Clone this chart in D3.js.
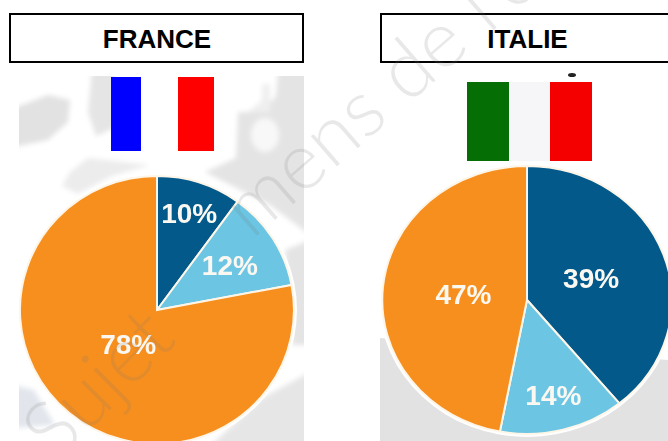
<!DOCTYPE html>
<html><head>
<meta charset="utf-8">
<script src="https://d3js.org/d3.v7.min.js"></script>
<style>
  html, body { margin: 0; padding: 0; background: #fff; }
  svg { display: block; }
</style>
</head>
<body>
<svg id="chart" width="668" height="441"></svg>
<script>
const categories = ["Bleu fonce", "Bleu clair", "Orange"];
const franceValues = [10, 12, 78];
const italieValues = [39, 14, 47];
const colors = ["#03598a", "#6cc5e3", "#f78f1e"];
const franceFlag = ["#0000ff", "#ffffff", "#ff0000"];
const italieFlag = ["#056f05", "#f6f6f8", "#f50000"];

const svg = d3.select("#chart");
const defs = svg.append("defs");
defs.append("filter").attr("id", "soft").append("feGaussianBlur").attr("stdDeviation", 0.55);
defs.append("filter").attr("id", "mapblur").append("feGaussianBlur").attr("stdDeviation", 2.5);
defs.append("clipPath").attr("id", "clipF").append("rect").attr("x", 19).attr("y", 76).attr("width", 285).attr("height", 365);
defs.append("clipPath").attr("id", "clipI").append("rect").attr("x", 380).attr("y", 76).attr("width", 288).attr("height", 365);

// grey map behind the pies (decoration only)
const mapF = svg.append("g").attr("clip-path", "url(#clipF)")
  .append("g").attr("filter", "url(#mapblur)");
[
  ["M14,108 L48,95 L70,100 L68,122 L48,140 L14,147 Z", "#e2e2e2"],
  ["M92,70 L114,70 L114,128 L96,136 L88,112 Z", "#e5e5e5"],
  ["M70,172 L88,158 L150,165 L112,176 L78,194 L62,186 Z", "#ececec"],
  ["M278,70 L310,70 L310,235 L270,205 L205,172 L236,158 L238,112 L262,112 L276,96 Z", "#e4e4e4"],
  ["M248,112 L262,100 L262,84 L270,84 L270,112 Z", "#efefef"],
  ["M14,385 L34,390 L55,425 L14,428 Z", "#e2e6ec"],
  ["M210,446 L262,398 L310,372 L310,446 Z", "#e6e6e6"],
  ["M285,250 L310,240 L310,345 L292,345 Z", "#e4e4e4"]
].forEach(d => mapF.append("path").attr("d", d[0]).attr("fill", d[1]));
// white patch inside the land on the right
mapF.append("ellipse").attr("cx", 265).attr("cy", 135).attr("rx", 14).attr("ry", 17).attr("fill", "#f8f8f8");

const mapI = svg.append("g").attr("clip-path", "url(#clipI)")
  .append("g").attr("fill", "#e2e2e2");
mapI.append("path").attr("d", "M380,338 L668,360 L668,441 L380,441 Z");

// flags, edges are the band limits in pixels
function drawFlag(edges, y0, y1, flag) {
  svg.append("g").selectAll("rect").data(flag).join("rect")
    .attr("x", (d, i) => edges[i])
    .attr("y", y0)
    .attr("width", (d, i) => edges[i + 1] - edges[i])
    .attr("height", y1 - y0)
    .attr("fill", d => d);
}
drawFlag([111, 141, 178, 214], 77, 151, franceFlag);
drawFlag([467, 509, 550, 592], 82, 161, italieFlag);
svg.append("ellipse").attr("cx", 572).attr("cy", 75).attr("rx", 4).attr("ry", 2).attr("fill", "#222");

// pies
const pie = d3.pie().sort(null).value(d => d);
const arc = d3.arc().innerRadius(0).outerRadius(1);

function drawPie(cx, cy, rx, ry, values, labelPos) {
  const g = svg.append("g").attr("transform", `translate(${cx},${cy})`);
  const arcs = pie(values);
  g.append("ellipse").attr("rx", rx + 3).attr("ry", ry + 3).attr("fill", "#fff");
  g.selectAll("path").data(arcs).join("path")
    .attr("d", arc)
    .attr("transform", `scale(${rx},${ry})`)
    .attr("fill", (d, i) => colors[i])
    .attr("stroke", "#fdf6e8")
    .attr("stroke-width", 2)
    .attr("vector-effect", "non-scaling-stroke");
  g.selectAll("text").data(arcs).join("text")
    .attr("x", (d, i) => Math.sin((d.startAngle + d.endAngle) / 2) * labelPos[i] * rx)
    .attr("y", (d, i) => -Math.cos((d.startAngle + d.endAngle) / 2) * labelPos[i] * ry)
    .attr("dy", "0.35em")
    .attr("text-anchor", "middle")
    .attr("font-family", "Liberation Sans")
    .attr("font-weight", "bold")
    .attr("font-size", 28)
    .attr("fill", "#fbf8f2")
    .attr("filter", "url(#soft)")
    .text(d => d.value + "%");
}
drawPie(157, 310, 137, 134, franceValues, [0.76, 0.63, 0.33]);
drawPie(527, 300, 145, 134, italieValues, [0.47, 0.73, 0.44]);

// title boxes
function drawTitle(x, width, textX, label) {
  svg.append("rect")
    .attr("x", x).attr("y", 14).attr("width", width).attr("height", 48)
    .attr("fill", "#fff").attr("stroke", "#000").attr("stroke-width", 2);
  svg.append("text")
    .attr("x", textX).attr("y", 48)
    .attr("text-anchor", "middle")
    .attr("font-family", "Liberation Sans")
    .attr("font-weight", "bold")
    .attr("font-size", 26)
    .attr("fill", "#000")
    .text(label);
}
drawTitle(10, 293, 157, "FRANCE");
drawTitle(381, 300, 527.5, "ITALIE");

// faint watermark, the middle of it is lost under the pie
function drawWatermark(x, y, angle, label) {
  svg.append("text")
    .attr("transform", `translate(${x},${y}) rotate(${angle})`)
    .attr("font-family", "Lato")
    .attr("font-weight", 300)
    .attr("font-size", 80)
    .attr("fill", "#777")
    .attr("opacity", 0.16)
    .text(label);
}
drawWatermark(56, 464, -45, "Sujet");
drawWatermark(252, 240, -41, "mens de l'e");
</script>
</body>
</html>
